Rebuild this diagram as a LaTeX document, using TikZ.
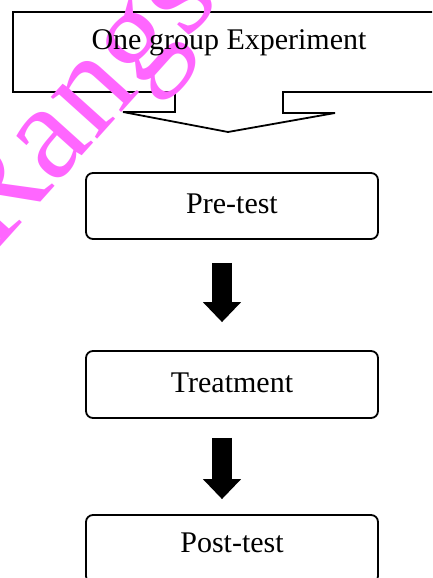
\documentclass[tikz,border=0pt]{standalone}
\usepackage{fontspec}
\setmainfont{Liberation Serif}
\usetikzlibrary{arrows.meta}
\definecolor{wm}{RGB}{255,102,255}
\tikzset{
  box/.style={draw=black, line width=1.8pt, rounded corners=7pt, minimum width=292pt,
    inner sep=0pt, text height=20pt, font=\fontsize{30}{36}\selectfont},
  titletext/.style={inner sep=0pt, font=\fontsize{30}{36}\selectfont},
  outline/.style={draw=black, line width=1.8pt, line join=miter},
  blockarrow/.style={draw=black, line width=20pt, -{Triangle[width=37pt,length=20pt]}},
  watermark/.style={inner sep=0pt, text=wm, font=\fontsize{136}{145}\selectfont}
}
\begin{document}
\begin{tikzpicture}[x=1pt,y=-1pt]
\useasboundingbox (0,0) rectangle (432,578);
\clip (0,0) rectangle (432,578);
\fill[white] (0,0) rectangle (432,578);
% top box with notched arrow
\draw[outline] (445,12) -- (13,12) -- (13,92) -- (175,92) -- (175,112) -- (123,112)
  -- (228,132) -- (335,113) -- (283,113) -- (283,92) -- (445,92);
% process boxes
\node[box, minimum height=66pt, text depth=6pt] (pre) at (232,206) {Pre-test};
\node[box, minimum height=67pt, text depth=5pt] (treat) at (232,384.5) {Treatment};
\node[box, minimum height=68pt, text depth=14pt] (post) at (232,549) {Post-test};
% block arrows
\draw[blockarrow] ([xshift=-10pt,yshift=-23pt]pre.south) -- ([xshift=-10pt,yshift=28pt]treat.north);
\draw[blockarrow] ([xshift=-10pt,yshift=-19pt]treat.south) -- ([xshift=-10pt,yshift=15pt]post.north);
% watermark
\node[watermark, rotate=48, anchor=base west] (wmark) at (-6,254) {Rangsit};
% title
\node[titletext, anchor=base] (title) at (229,50) {One group Experiment};
\end{tikzpicture}
\end{document}
